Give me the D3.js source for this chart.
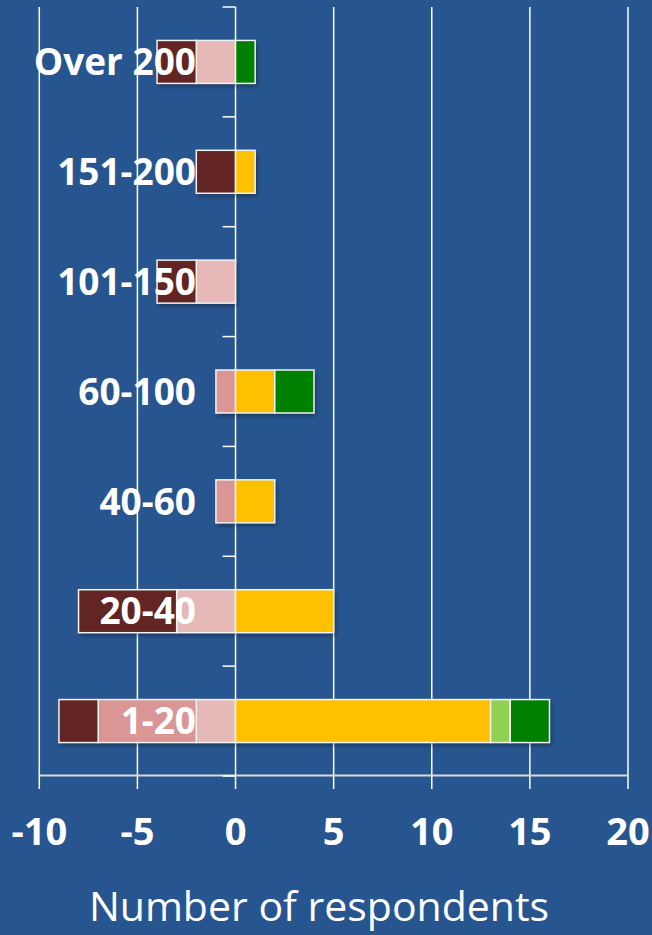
<!DOCTYPE html><html><head><meta charset="UTF-8"><script src="https://d3js.org/d3.v7.min.js"></script><style>
    html, body { margin: 0; padding: 0; background: #27558f; }
    svg { display: block; font-family: "Open Sans", sans-serif; }
</style></head><body><div id="chart"></div><script>
    // category bands, top to bottom
    const categories = ["Over 200", "151-200", "101-150", "60-100", "40-60", "20-40", "1-20"];
    // negative side, stacked outwards from zero
    const lightPink = [2, 0, 2, 0, 0, 3, 2];
    const midPink   = [0, 0, 0, 1, 1, 0, 5];
    const darkRed   = [2, 2, 2, 0, 0, 5, 2];
    // positive side, stacked outwards from zero
    const yellow     = [0, 1, 0, 2, 2, 5, 13];
    const lightGreen = [0, 0, 0, 0, 0, 0, 1];
    const green      = [1, 0, 0, 2, 0, 0, 2];
    const xTicks = [-10, -5, 0, 5, 10, 15, 20];
    const axisTitle = "Number of respondents";

    const negSeries = [
        {values: lightPink, color: "#e6b9b8"},
        {values: midPink, color: "#d99694"},
        {values: darkRed, color: "#632523"}
    ];
    const posSeries = [
        {values: yellow, color: "#ffc000"},
        {values: lightGreen, color: "#92d050"},
        {values: green, color: "#008000"}
    ];

    const W = 652, H = 935;
    const svg = d3.select('#chart').append('svg')
        .attr('width', W).attr('height', H);

    const defs = svg.append('defs');
    const f = defs.append('filter').attr('id', 'shadow')
        .attr('x', '-10%').attr('y', '-20%').attr('width', '130%').attr('height', '160%');
    f.append('feDropShadow').attr('dx', 2).attr('dy', 3)
        .attr('stdDeviation', 2).attr('flood-color', '#000').attr('flood-opacity', 0.35);

    const x = d3.scaleLinear().domain([-10, 20]).range([39.3, 628]);
    const band = d3.scaleBand().domain(categories).range([7, 776]);

    // vertical gridlines (extend below the axis as tick marks)
    svg.append('g').selectAll('line').data(xTicks).enter().append('line')
        .attr('x1', d => x(d)).attr('x2', d => x(d))
        .attr('y1', 7).attr('y2', 789)
        .attr('stroke', '#ffffff').attr('stroke-width', 1.5);

    // horizontal axis line
    svg.append('line')
        .attr('x1', x(-10)).attr('x2', x(20))
        .attr('y1', 775.5).attr('y2', 775.5)
        .attr('stroke', '#d9d9d9').attr('stroke-width', 2);

    // category axis at zero with boundary ticks
    const bounds = categories.map(c => band(c)).concat([776]);
    svg.append('g').selectAll('line').data(bounds).enter().append('line')
        .attr('x1', x(0) - 13).attr('x2', x(0))
        .attr('y1', d => d).attr('y2', d => d)
        .attr('stroke', '#ffffff').attr('stroke-width', 1.5);

    // stacked bars
    const segs = [];
    categories.forEach((c, i) => {
        let acc = 0;
        negSeries.forEach(s => {
            const v = s.values[i];
            if (v > 0) segs.push({cat: c, x0: acc - v, x1: acc, color: s.color});
            acc -= v;
        });
        acc = 0;
        posSeries.forEach(s => {
            const v = s.values[i];
            if (v > 0) segs.push({cat: c, x0: acc, x1: acc + v, color: s.color});
            acc += v;
        });
    });

    const barH = 43;
    const barG = svg.append('g');
    // shadow underlay per category
    categories.forEach(c => {
        const mine = segs.filter(s => s.cat === c);
        const lo = d3.min(mine, s => s.x0), hi = d3.max(mine, s => s.x1);
        barG.append('rect')
            .attr('x', x(lo)).attr('width', x(hi) - x(lo))
            .attr('y', band(c) + band.bandwidth() / 2 - barH / 2).attr('height', barH)
            .attr('fill', '#27558f').attr('filter', 'url(#shadow)');
    });
    barG.selectAll('.seg').data(segs).enter().append('rect')
        .attr('class', 'seg')
        .attr('x', d => x(d.x0)).attr('width', d => x(d.x1) - x(d.x0))
        .attr('y', d => band(d.cat) + band.bandwidth() / 2 - barH / 2)
        .attr('height', barH)
        .attr('fill', d => d.color)
        .attr('stroke', '#f2f2f2').attr('stroke-width', 1.5);

    // category labels (drawn over bars)
    const fs = 37;
    svg.append('g').selectAll('text').data(categories).enter().append('text')
        .attr('x', 196)
        .attr('y', d => band(d) + band.bandwidth() / 2 + 0.357 * fs)
        .attr('text-anchor', 'end')
        .attr('font-size', fs).attr('font-weight', 700)
        .attr('fill', '#ffffff')
        .text(d => d);

    // x tick labels
    svg.append('g').selectAll('text').data(xTicks).enter().append('text')
        .attr('x', d => x(d)).attr('y', 845)
        .attr('text-anchor', 'middle')
        .attr('font-size', 38).attr('font-weight', 700)
        .attr('fill', '#ffffff')
        .text(d => d);

    // axis title
    svg.append('text')
        .attr('x', 319).attr('y', 921)
        .attr('text-anchor', 'middle')
        .attr('font-size', 41)
        .attr('fill', '#ffffff')
        .text(axisTitle);
</script></body></html>
